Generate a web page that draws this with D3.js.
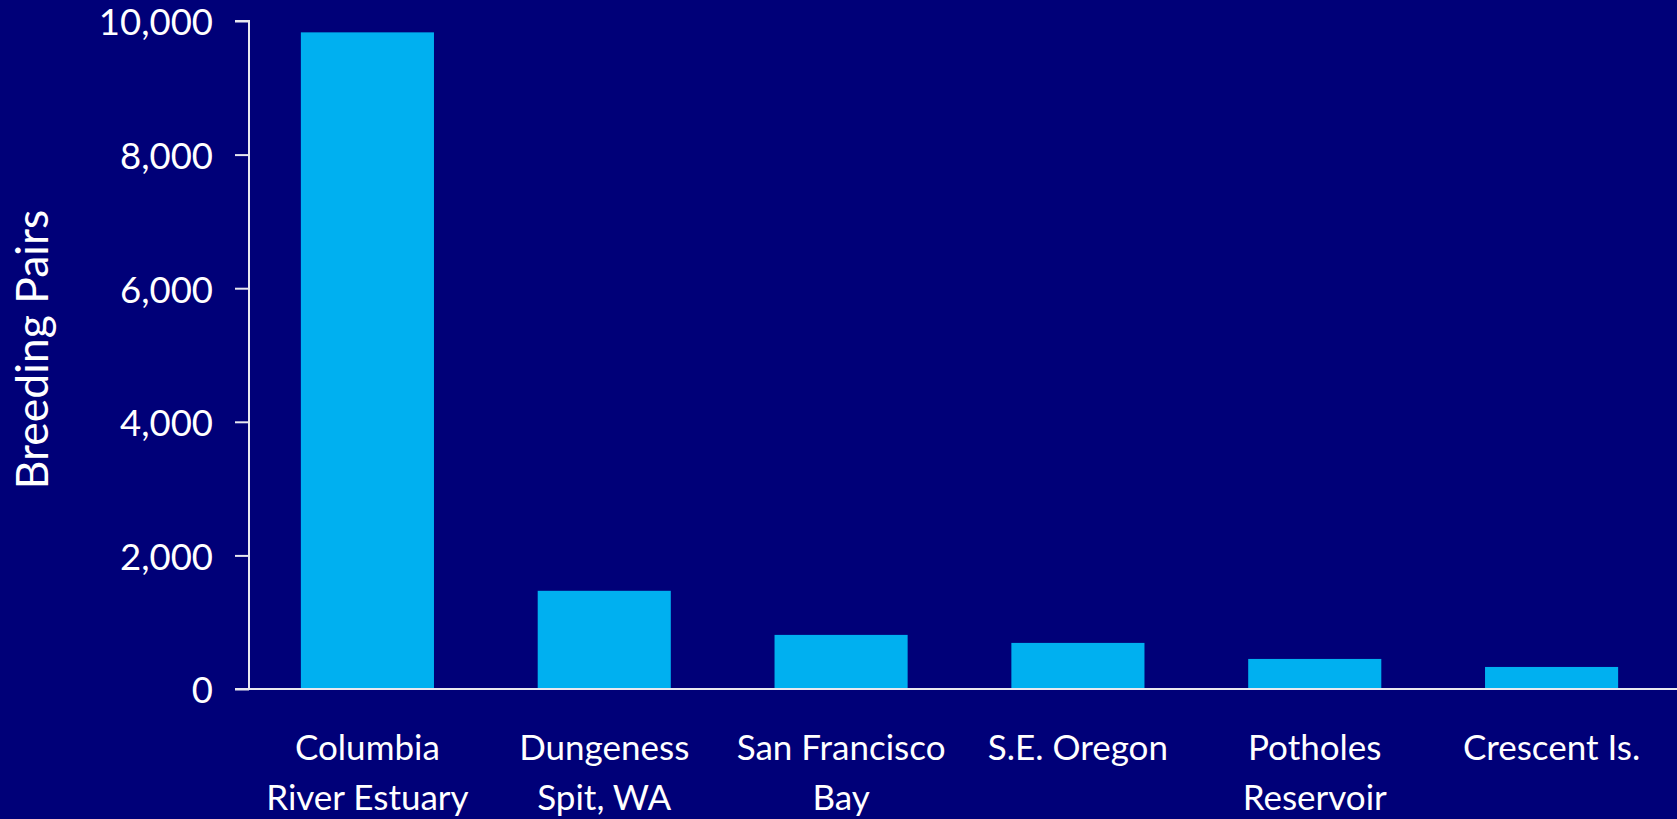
<!DOCTYPE html>
<html>
<head>
<meta charset="utf-8">
<script src="https://cdn.jsdelivr.net/npm/d3@7"></script>
<style>
  html, body { margin: 0; padding: 0; background: #000078; }
  svg { display: block; }
  text { font-family: Lato, "Open Sans", sans-serif; fill: #ffffff; }
</style>
</head>
<body>
<svg id="chart" width="1677" height="819"></svg>
<script>
// Caspian tern breeding colonies, western North America
const sites = [
  ["Columbia", "River Estuary"],
  ["Dungeness", "Spit, WA"],
  ["San Francisco", "Bay"],
  ["S.E. Oregon"],
  ["Potholes", "Reservoir"],
  ["Crescent Is."]
];
const siteKeys = sites.map(s => s.join(" "));
const breedingPairs = [9830, 1470, 810, 690, 450, 330];
const yTicks = [0, 2000, 4000, 6000, 8000, 10000];
const yTitle = "Breeding Pairs";

const W = 1677, H = 819;
const plotLeft = 249, plotRight = 1670, plotTop = 21, plotBottom = 689;

const svg = d3.select("#chart");
svg.append("rect").attr("width", W).attr("height", H).attr("fill", "#000078");

const x = d3.scaleBand()
  .domain(siteKeys)
  .range([plotLeft, plotRight])
  .paddingInner(0.438)
  .paddingOuter(0.219);

const y = d3.scaleLinear().domain([0, 10000]).range([plotBottom, plotTop]);

// bars
svg.append("g").selectAll("rect")
  .data(breedingPairs)
  .join("rect")
  .attr("x", (d, i) => x(siteKeys[i]))
  .attr("width", x.bandwidth())
  .attr("y", d => y(d))
  .attr("height", d => y(0) - y(d))
  .attr("fill", "#00B0F0");

// y axis
const yAxis = svg.append("g")
  .attr("transform", `translate(${plotLeft},0)`)
  .call(d3.axisLeft(y).tickValues(yTicks).tickFormat(d3.format(",")).tickSize(14).tickPadding(22));
yAxis.select(".domain").attr("stroke", "#e8e8f0").attr("stroke-width", 2).attr("d", `M-14,${y(10000)}H0V${y(0)}`);
yAxis.selectAll(".tick line").attr("stroke", "#e8e8f0").attr("stroke-width", 2);
yAxis.selectAll(".tick text")
  .attr("fill", "#ffffff")
  .attr("font-size", 36.5)
  .attr("dy", "0.38em")
  .style("font-family", "Lato, 'Open Sans', sans-serif");

// x baseline running to the right edge
svg.append("line")
  .attr("x1", plotLeft - 14).attr("x2", W)
  .attr("y1", y(0)).attr("y2", y(0))
  .attr("stroke", "#e8e8f0").attr("stroke-width", 2);

// category labels
const xLab = svg.append("g").selectAll("text")
  .data(sites)
  .join("text")
  .attr("x", (d, i) => x(siteKeys[i]) + x.bandwidth() / 2)
  .attr("y", 760)
  .attr("text-anchor", "middle")
  .attr("font-size", 35);
xLab.selectAll("tspan")
  .data(d => d)
  .join("tspan")
  .attr("x", function () { return d3.select(this.parentNode).attr("x"); })
  .attr("dy", (d, i) => i === 0 ? 0 : 50)
  .text(d => d);

// y axis title
svg.append("text")
  .attr("transform", `translate(48,${(212 + 487) / 2}) rotate(-90)`)
  .attr("text-anchor", "middle")
  .attr("font-size", 44.5)
  .text(yTitle);
</script>
</body>
</html>
